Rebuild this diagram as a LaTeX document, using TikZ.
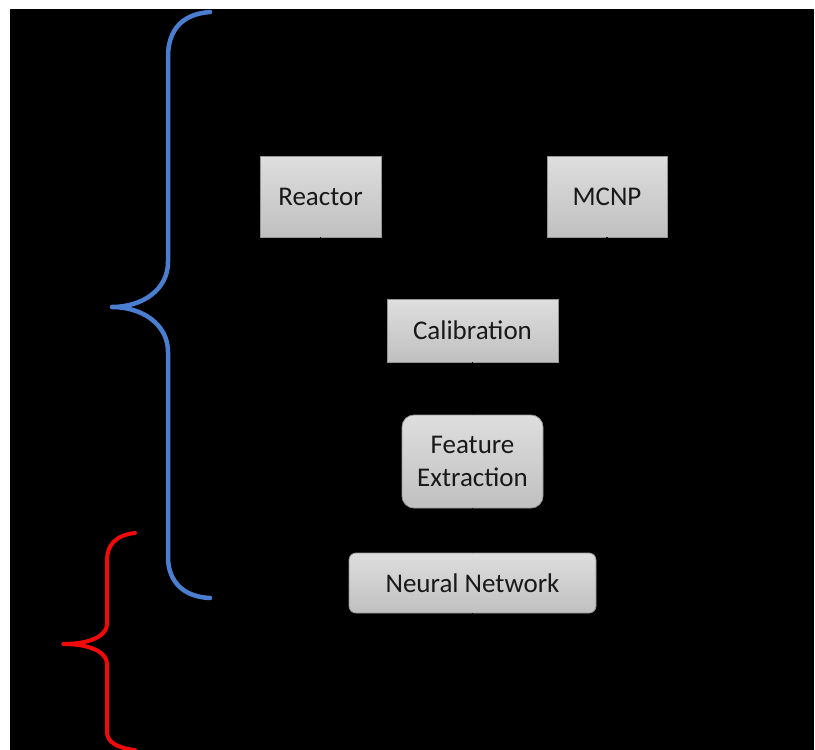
\documentclass[tikz,border=0pt]{standalone}
\usepackage{fontspec}
\setmainfont{Carlito}
\usetikzlibrary{arrows.meta,calc}
\definecolor{braceblue}{RGB}{74,126,208}
\definecolor{bracered}{RGB}{240,10,10}
\definecolor{boxtext}{RGB}{25,25,25}
\tikzset{
  stagebox/.style={draw={rgb,255:red,150;green,150;blue,150}, line width=0.8pt,
    top color={rgb,255:red,222;green,222;blue,222},
    bottom color={rgb,255:red,192;green,192;blue,192},
    inner sep=0pt, align=center, text=boxtext,
    font=\fontsize{27}{33}\selectfont},
  roundbox/.style={stagebox, rounded corners=#1},
  hidden/.style={draw=black, line width=1.2pt, -{Stealth[length=8pt]}},
  bracepath/.style={line width=4.5pt, line cap=round, line join=round}
}
\begin{document}
\begin{tikzpicture}[x=1pt,y=-1pt]
\useasboundingbox (0,0) rectangle (815,750);
\fill[white] (0,0) rectangle (815,750);
\fill[black] (10,9) rectangle (814,750);

% nodes
\node[stagebox, minimum width=121pt, minimum height=81pt] (reactor) at (320.5,196.5) {Reactor};
\node[stagebox, minimum width=120pt, minimum height=81pt] (mcnp) at (607,196.5) {MCNP};
\node[stagebox, minimum width=171pt, minimum height=63pt] (calib) at (472.5,330.5) {Calibration};
\node[roundbox=12pt, minimum width=141pt, minimum height=93pt] (feat) at (472.5,461.5) {Feature\\Extraction};
\node[roundbox=7pt, minimum width=247pt, minimum height=60pt] (nn) at (472.5,583) {Neural Network};
\coordinate (out) at (472.5,650);

% connectors (black on black, as in the reference)
\draw[hidden] (reactor.south) |- ($(calib.north)+(0,-30)$) -- (calib.north);
\draw[hidden] (mcnp.south) |- ($(calib.north)+(0,-30)$) -- (calib.north);
\draw[hidden] (calib.south) -- (feat.north);
\draw[hidden] (feat.south) -- (nn.north);
\draw[hidden] (nn.south) -- (out);

% blue brace
\draw[bracepath, braceblue]
  (210,12) .. controls (182,14) and (168,30) .. (168,57)
  -- (168,262) .. controls (168,290) and (142,307) .. (112,307)
  .. controls (142,307) and (168,324) .. (168,352)
  -- (168,557) .. controls (168,582) and (184,597) .. (210,598);

% red brace
\draw[bracepath, bracered, line width=4pt]
  (135,533) .. controls (116,535) and (107,545) .. (107,560)
  -- (107,624) .. controls (107,636) and (90,644) .. (63,644)
  .. controls (90,644) and (107,652) .. (107,664)
  -- (107,732) .. controls (107,742) and (117,748) .. (135,750);
\end{tikzpicture}
\end{document}
